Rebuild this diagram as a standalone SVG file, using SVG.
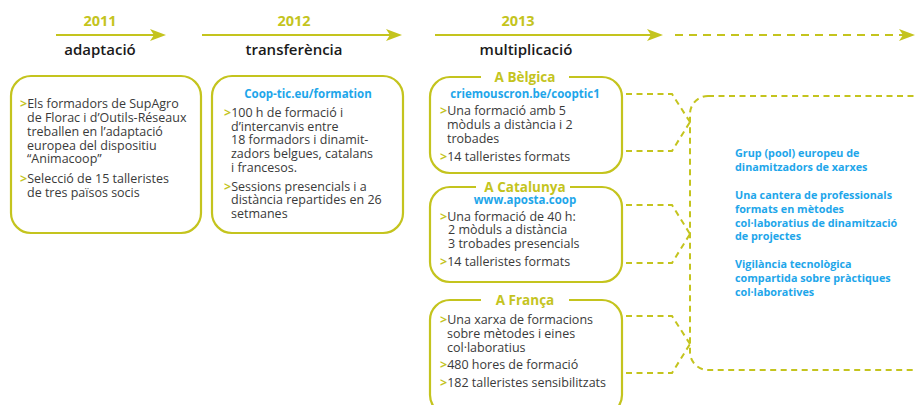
<svg xmlns="http://www.w3.org/2000/svg" width="915" height="405" viewBox="0 0 915 405">
<defs>
<style>
.box{fill:#fff;stroke:#c4c41e;stroke-width:2.2}
.dash{fill:none;stroke:#c4c41e;stroke-width:2;stroke-dasharray:6 4.5}
.tl{fill:none;stroke:#c4c41e;stroke-width:2}
.yr{font-family:"Open Sans","Liberation Sans",sans-serif;font-weight:700;font-size:14.5px;fill:#c4c41e;text-anchor:middle}
.ph{font-family:"Open Sans","Liberation Sans",sans-serif;font-weight:600;font-size:15px;fill:#1a1a1a;text-anchor:middle}
.t{font-family:"Open Sans","Liberation Sans",sans-serif;font-size:12.5px;fill:#3a3a3a}
.b{fill:#c4c41e;font-weight:700}
.url{font-family:"Open Sans","Liberation Sans",sans-serif;font-weight:700;font-size:11.5px;fill:#1ea6ea;text-anchor:middle}
.ttl{font-family:"Open Sans","Liberation Sans",sans-serif;font-weight:700;font-size:13.5px;fill:#c4c41e;text-anchor:middle}
.res{font-family:"Open Sans","Liberation Sans",sans-serif;font-weight:700;font-size:10.8px;fill:#1ea6ea}
</style>
<marker id="ah" markerUnits="userSpaceOnUse" markerWidth="18" markerHeight="14" refX="10" refY="6" orient="auto">
<path d="M0,0 L16,6 L0,12 L4,6 Z" fill="#c4c41e"/>
</marker>
</defs>
<rect width="915" height="405" fill="#fff"/>

<g id="timeline">
<line class="tl" x1="56" y1="35" x2="160" y2="35" marker-end="url(#ah)"/>
<line class="tl" x1="202" y1="35" x2="396" y2="35" marker-end="url(#ah)"/>
<line class="tl" x1="435" y1="35" x2="657" y2="35" marker-end="url(#ah)"/>
<line class="tl" x1="675" y1="35" x2="909" y2="35" stroke-dasharray="8 6" marker-end="url(#ah)"/>
<text class="yr" x="100" y="26">2011</text>
<text class="ph" x="100" y="55">adaptació</text>
<text class="yr" x="294" y="26">2012</text>
<text class="ph" x="294" y="55">transferència</text>
<text class="yr" x="518" y="26">2013</text>
<text class="ph" x="526" y="55">multiplicació</text>
</g>

<g id="connectors">
<path class="dash" d="M626,94 H672 L690,122 M626,151 H672 L690,122"/>
<path class="dash" d="M626,205 H672 L690,234 M626,263 H672 L690,234"/>
<path class="dash" d="M626,316 H672 L690,344 M626,373 H672 L690,344"/>
</g>

<g id="box-2011">
<rect class="box" x="11" y="76" width="190" height="157" rx="20"/>
<text class="t" x="20" y="107.5"><tspan class="b">&gt;</tspan>Els formadors de SupAgro</text>
<text class="t" x="27" y="121.5">de Florac i d’Outils-Réseaux</text>
<text class="t" x="27" y="135.5">treballen en l’adaptació</text>
<text class="t" x="27" y="149.5">europea del dispositiu</text>
<text class="t" x="27" y="163">“Animacoop”</text>
<text class="t" x="20" y="183"><tspan class="b">&gt;</tspan>Selecció de 15 talleristes</text>
<text class="t" x="27" y="197">de tres països socis</text>
</g>

<g id="box-2012">
<rect class="box" x="212" y="76" width="191" height="157" rx="20"/>
<text class="url" x="308" y="97.5">Coop-tic.eu/formation</text>
<text class="t" x="224" y="117"><tspan class="b">&gt;</tspan>100 h de formació i</text>
<text class="t" x="231" y="130.7">d’intercanvis entre</text>
<text class="t" x="231" y="144.4">18 formadors i dinamit-</text>
<text class="t" x="231" y="158">zadors belgues, catalans</text>
<text class="t" x="231" y="171.8">i francesos.</text>
<text class="t" x="224" y="190.7"><tspan class="b">&gt;</tspan>Sessions presencials i a</text>
<text class="t" x="231" y="204.3">distància repartides en 26</text>
<text class="t" x="231" y="217.5">setmanes</text>
</g>

<g id="box-belgica">
<rect class="box" x="430" y="77" width="192" height="96" rx="20"/>
<rect x="481" y="70" width="88" height="14" fill="#fff"/>
<text class="ttl" x="525" y="82">A Bèlgica</text>
<text class="url" x="525" y="98">criemouscron.be/cooptic1</text>
<text class="t" x="440" y="115"><tspan class="b">&gt;</tspan>Una formació amb 5</text>
<text class="t" x="447" y="129">mòduls a distància i 2</text>
<text class="t" x="447" y="143">trobades</text>
<text class="t" x="440" y="161"><tspan class="b">&gt;</tspan>14 talleristes formats</text>
</g>

<g id="box-catalunya">
<rect class="box" x="430" y="187" width="192" height="95" rx="20"/>
<rect x="476" y="180" width="94" height="14" fill="#fff"/>
<text class="ttl" x="525" y="191.5">A Catalunya</text>
<text class="url" x="525" y="204">www.aposta.coop</text>
<text class="t" x="440" y="220.7"><tspan class="b">&gt;</tspan>Una formació de 40 h:</text>
<text class="t" x="448" y="234">2 mòduls a distància</text>
<text class="t" x="448" y="247.7">3 trobades presencials</text>
<text class="t" x="440" y="265.7"><tspan class="b">&gt;</tspan>14 talleristes formats</text>
</g>

<g id="box-franca">
<rect class="box" x="430" y="300" width="192" height="115" rx="20"/>
<rect x="481" y="293" width="88" height="14" fill="#fff"/>
<text class="ttl" x="525" y="305">A França</text>
<text class="t" x="440" y="324"><tspan class="b">&gt;</tspan>Una xarxa de formacions</text>
<text class="t" x="447" y="338">sobre mètodes i eines</text>
<text class="t" x="447" y="352">col·laboratius</text>
<text class="t" x="440" y="368.5"><tspan class="b">&gt;</tspan>480 hores de formació</text>
<text class="t" x="440" y="387"><tspan class="b">&gt;</tspan>182 talleristes sensibilitzats</text>
</g>

<g id="box-results">
<rect class="dash" x="690" y="96" width="280" height="274" rx="18"/>
<text class="res" x="735" y="157">Grup (pool) europeu de</text>
<text class="res" x="735" y="170.7">dinamitzadors de xarxes</text>
<text class="res" x="735" y="199.3">Una cantera de professionals</text>
<text class="res" x="735" y="212.7">formats en mètodes</text>
<text class="res" x="735" y="226.5">col·laboratius de dinamització</text>
<text class="res" x="735" y="240">de projectes</text>
<text class="res" x="735" y="268.3">Vigilància tecnològica</text>
<text class="res" x="735" y="282.3">compartida sobre pràctiques</text>
<text class="res" x="735" y="295.7">col·laboratives</text>
</g>
</svg>
